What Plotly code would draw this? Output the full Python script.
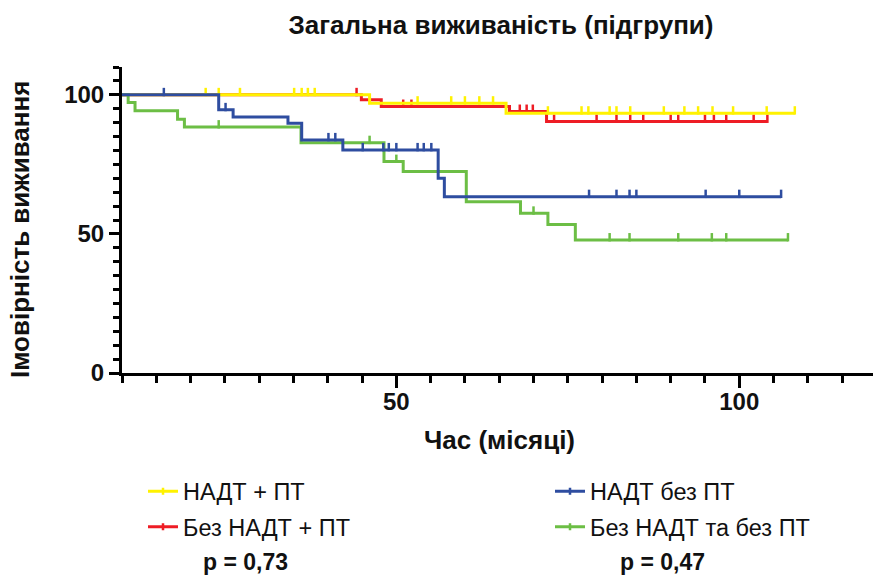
import plotly.graph_objects as go

# Kaplan-Meier step data (time in months, survival probability in %)
# НАДТ + ПТ
yellow_t = [0, 46.1, 66.0]
yellow_s = [100, 97.0, 93.4]
yellow_end = 108.1
yellow_cens_t = [22.2, 24.1, 27.2, 35.1, 36.2, 37.1, 38.1,
                 53.1, 58.0, 60.0, 62.1, 64.1,
                 72.1, 77.0, 78.0, 81.1, 82.1, 84.1, 89.0, 92.0, 94.0, 96.1, 99.1, 104.0, 108.1]

# Без НАДТ + ПТ
red_t = [0, 44.9, 47.8, 66.5, 71.9]
red_s = [100, 98.2, 95.8, 94.0, 90.4]
red_end = 104.1
red_cens_t = [44.2, 51.0, 52.2, 68.0, 69.0, 69.9,
              73.0, 79.2, 82.1, 84.1, 86.0, 90.0, 91.1, 95.0, 96.3, 98.1, 102.1, 104.1]

# НАДТ без ПТ
blue_t = [0, 24.1, 26.2, 34.2, 36.2, 42.2, 56.1, 57.0]
blue_s = [100, 94.6, 92.0, 89.8, 83.8, 80.2, 70.0, 63.4]
blue_end = 106.1
blue_cens_t = [16.1, 25.1, 40.1, 41.1, 45.1, 48.1, 48.9, 50.0, 53.1, 54.0, 55.1,
               78.1, 82.1, 84.0, 85.0, 95.1, 100.0, 106.1]

# Без НАДТ та без ПТ
green_t = [0, 10.9, 11.9, 18.1, 19.1, 36.1, 48.2, 51.0, 60.2, 68.1, 72.1, 76.1]
green_s = [100, 97.2, 94.3, 91.2, 88.4, 82.8, 76.0, 72.4, 61.6, 57.4, 53.4, 47.8]
green_end = 107.1
green_cens_t = [24.1, 46.1, 50.0, 70.0, 81.1, 84.0, 91.1, 96.0, 98.1, 107.1]

series_names = ["НАДТ + ПТ", "Без НАДТ + ПТ", "НАДТ без ПТ", "Без НАДТ та без ПТ"]
p_labels = ["p = 0,73", "p = 0,47"]

COLORS = {
    "yellow": "#FFF200",
    "red": "#EE1C25",
    "blue": "#2E4DA0",
    "green": "#6CBE45",
}

FONT = "Liberation Sans, Arial, sans-serif"
INK = "#111111"


def step_xy(t, s, end):
    xs, ys = [], []
    for i, (ti, si) in enumerate(zip(t, s)):
        if i > 0:
            xs.append(ti)
            ys.append(s[i - 1])
        xs.append(ti)
        ys.append(si)
    xs.append(end)
    ys.append(s[-1])
    return xs, ys


def surv_at(t, s, x):
    val = s[0]
    for ti, si in zip(t, s):
        if x >= ti:
            val = si
    return val


fig = go.Figure()

# drawing order: red, yellow, green, blue (blue on top)
curves = [
    ("red", red_t, red_s, red_end, red_cens_t),
    ("yellow", yellow_t, yellow_s, yellow_end, yellow_cens_t),
    ("green", green_t, green_s, green_end, green_cens_t),
    ("blue", blue_t, blue_s, blue_end, blue_cens_t),
]

for key, t, s, end, cens in curves:
    c = COLORS[key]
    xs, ys = step_xy(t, s, end)
    fig.add_trace(go.Scatter(
        x=xs, y=ys, mode="lines", line=dict(color=c, width=3),
        showlegend=False, hoverinfo="skip", legendgroup=key,
    ))
    # censor marks sit on top of the curve
    fig.add_trace(go.Scatter(
        x=cens, y=[surv_at(t, s, x) + 1.0 for x in cens], mode="markers",
        marker=dict(symbol="line-ns", size=6, line=dict(color=c, width=2.5)),
        showlegend=False, hoverinfo="skip", legendgroup=key, cliponaxis=False,
    ))

# legend entries in display order
legend_order = [
    ("yellow", series_names[0], "legend"),
    ("red", series_names[1], "legend"),
    ("blue", series_names[2], "legend2"),
    ("green", series_names[3], "legend2"),
]
for key, name, lg in legend_order:
    c = COLORS[key]
    fig.add_trace(go.Scatter(
        x=[None], y=[None], mode="lines+markers", name=name,
        line=dict(color=c, width=3),
        marker=dict(symbol="line-ns", size=5, line=dict(color=c, width=2.5)),
        legend=lg, legendgroup=key,
    ))

legend_style = dict(
    font=dict(family=FONT, size=23.5, color=INK),
    bgcolor="rgba(0,0,0,0)", borderwidth=0,
    orientation="v", yanchor="top", xanchor="left",
    traceorder="grouped", tracegroupgap=2, itemwidth=30,
)

PX0, PW = 122, 751      # plot area left edge and width (px)
PY0, PH = 372.7, 305.5  # plot area bottom edge and height (px)

fig.update_layout(
    width=873, height=575,
    margin=dict(l=122, r=0, t=67, b=202),
    paper_bgcolor="white", plot_bgcolor="white",
    font=dict(family=FONT, color=INK),
    title=dict(
        text="Загальна виживаність (підгрупи)",
        font=dict(family=FONT, size=26, weight="bold", color=INK),
        x=501 / 873, xref="container", xanchor="center",
        y=1 - 25 / 575, yref="container", yanchor="middle",
    ),
    xaxis=dict(
        range=[10, 119.5], showgrid=False, zeroline=False,
        showline=True, linewidth=3, linecolor="black",
        ticks="outside", ticklen=12, tickwidth=3, tickcolor="black",
        tick0=0, dtick=50, ticklabelstandoff=-7,
        tickfont=dict(family=FONT, size=24, weight="bold", color=INK),
        minor=dict(ticks="outside", ticklen=7, tickwidth=3, tickcolor="black", dtick=5, tick0=0),
    ),
    yaxis=dict(
        range=[0, 110], showgrid=False, zeroline=False,
        showline=True, linewidth=3, linecolor="black",
        ticks="outside", ticklen=10, tickwidth=3, tickcolor="black",
        tick0=0, dtick=50,
        tickfont=dict(family=FONT, size=24, weight="bold", color=INK),
        minor=dict(ticks="outside", ticklen=6, tickwidth=3, tickcolor="black", dtick=5, tick0=0),
    ),
    legend=dict(x=(143 - PX0) / PW, y=(PY0 - 469) / PH, **legend_style),
    legend2=dict(x=(550 - PX0) / PW, y=(PY0 - 469) / PH, **legend_style),
    showlegend=True,
)

# axis titles
fig.add_annotation(
    x=(499 - PX0) / PW, y=(PY0 - 440) / PH, xref="paper", yref="paper",
    text="Час (місяці)", showarrow=False, xanchor="center", yanchor="middle",
    font=dict(family=FONT, size=26, weight="bold", color=INK),
)
fig.add_annotation(
    x=(20 - PX0) / PW, y=(PY0 - 230) / PH, xref="paper", yref="paper",
    text="Імовірність виживання", textangle=-90, showarrow=False,
    xanchor="center", yanchor="middle",
    font=dict(family=FONT, size=26, weight="bold", color=INK),
)

# log-rank p-values under each legend column
for xc, txt in zip([245, 662], p_labels):
    fig.add_annotation(
        x=(xc - PX0) / PW, y=(PY0 - 561) / PH, xref="paper", yref="paper",
        text=txt, showarrow=False, xanchor="center", yanchor="middle",
        font=dict(family=FONT, size=23, weight="bold", color=INK),
    )

fig.write_html("out.html")
